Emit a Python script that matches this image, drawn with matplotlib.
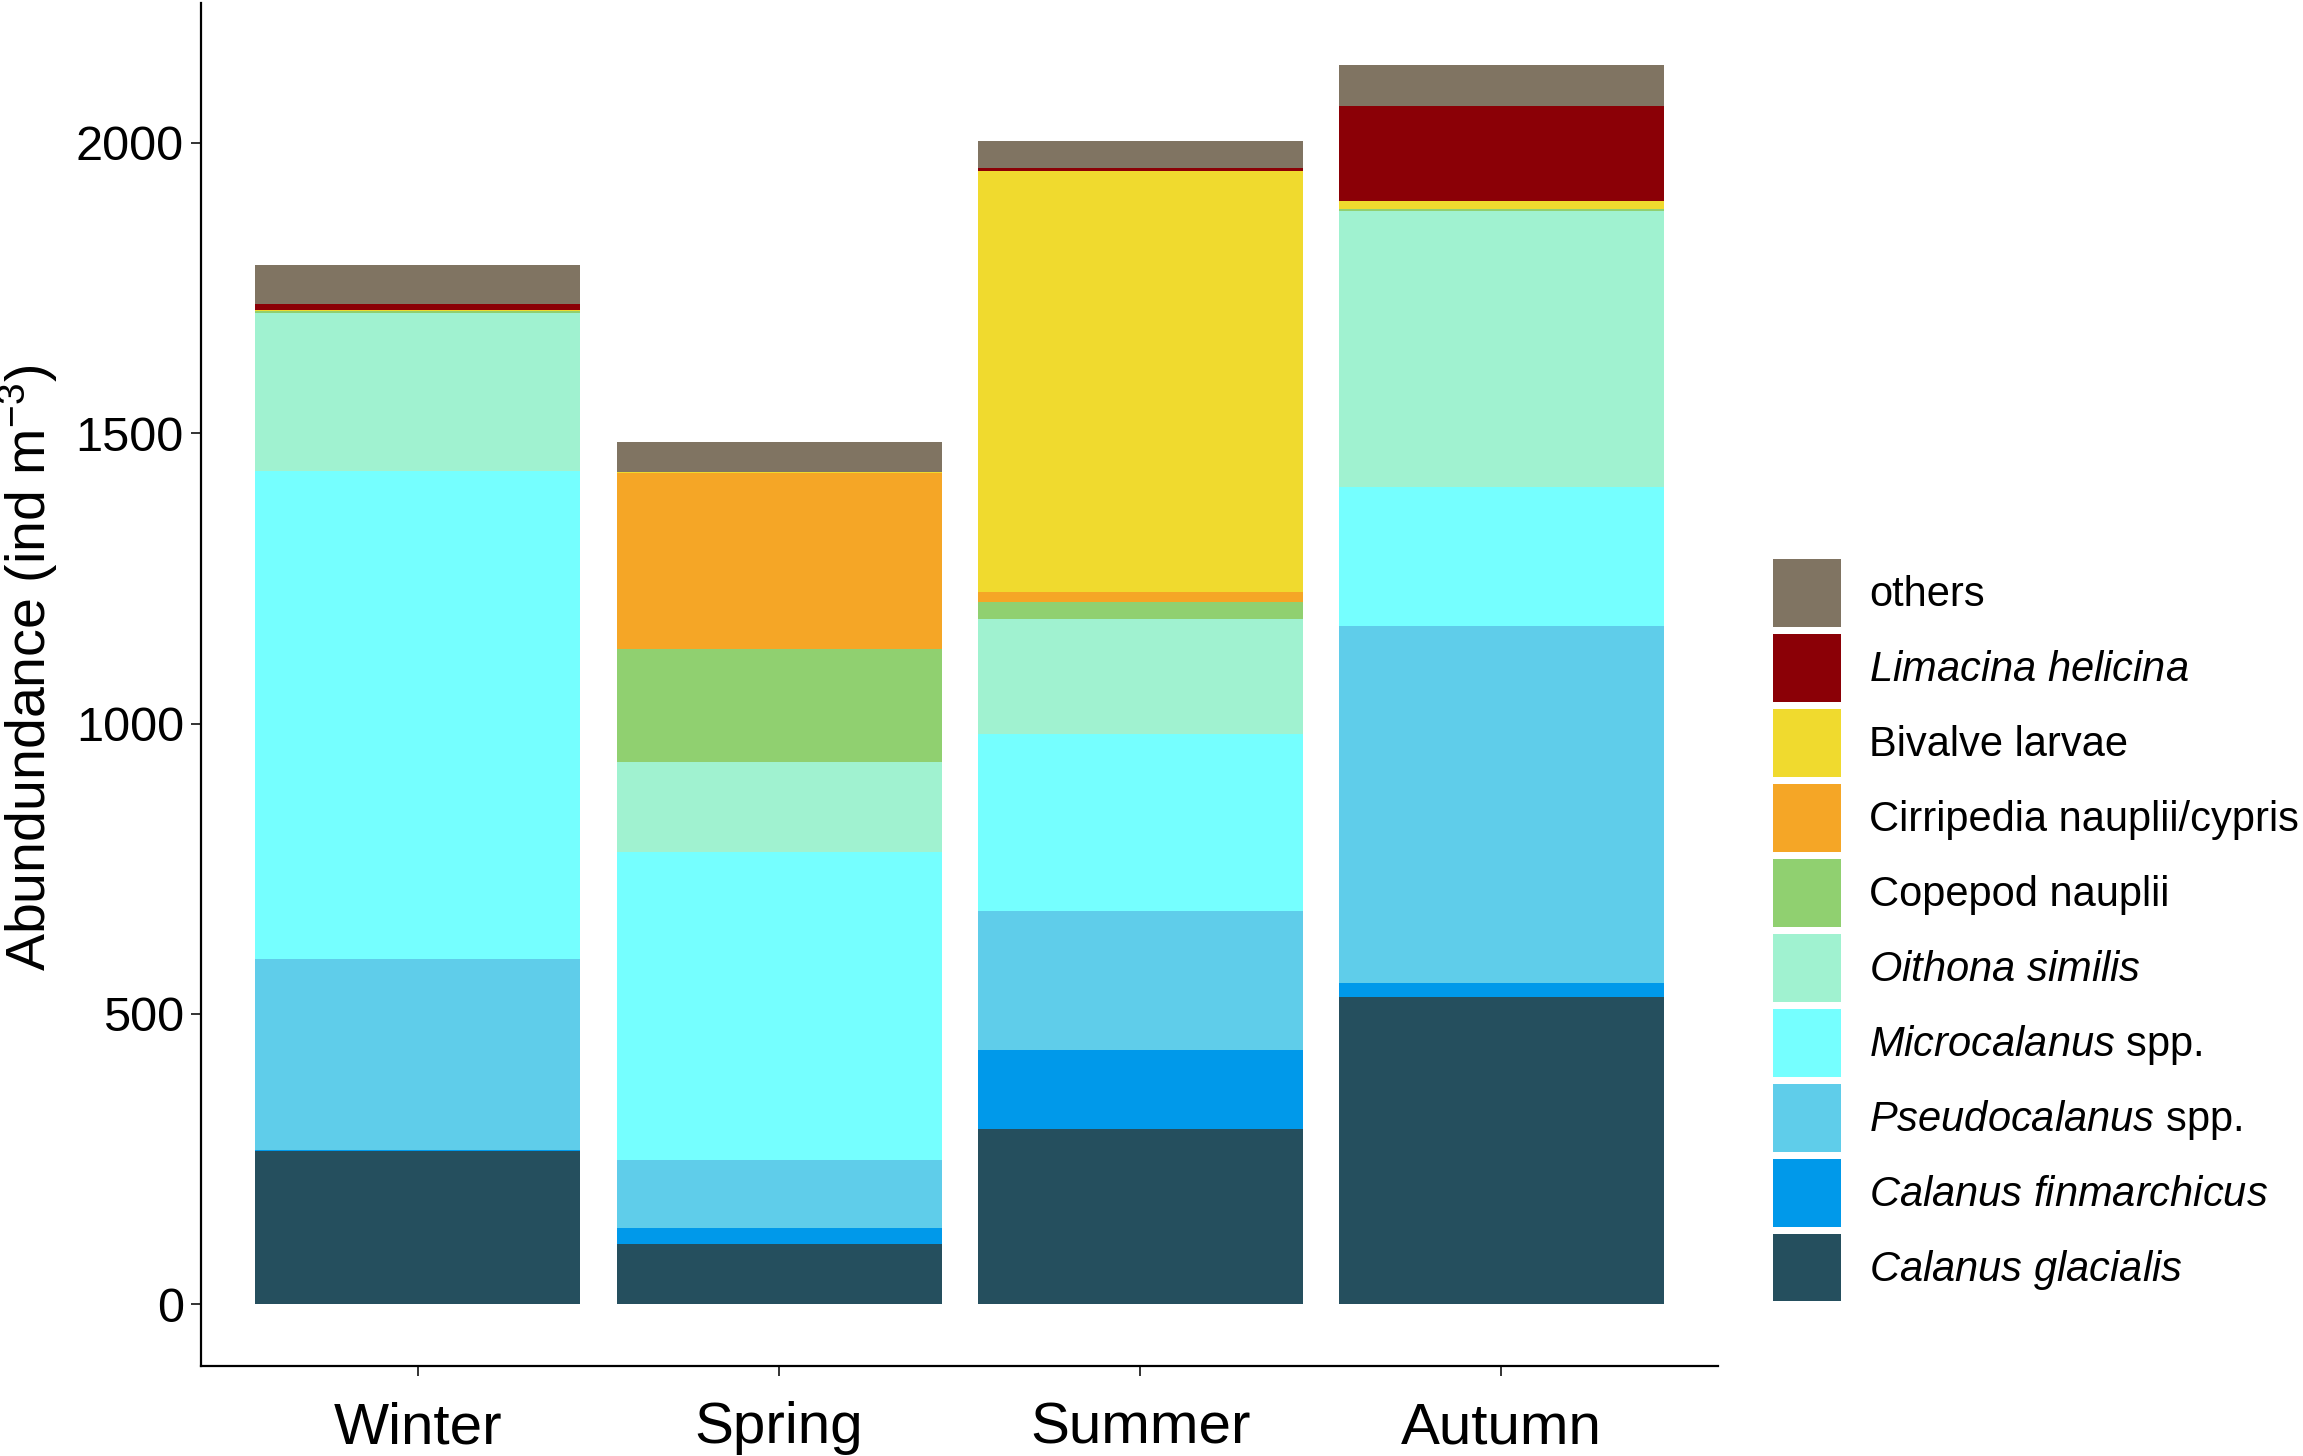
import matplotlib
matplotlib.use("Agg")
from matplotlib import pyplot as plt
from matplotlib.patches import Patch
import numpy as np

# fonts: Arial-like, italic species names via mathtext
plt.rcParams["font.family"] = ["Liberation Sans", "DejaVu Sans"]
plt.rcParams["mathtext.fontset"] = "custom"
plt.rcParams["mathtext.rm"] = "Liberation Sans"
plt.rcParams["mathtext.it"] = "Liberation Sans:italic"

# data (ind m^-3)
seasons = ["Winter", "Spring", "Summer", "Autumn"]

# bottom to top of the stack
species = [
    r"$\mathit{Calanus\ glacialis}$",
    r"$\mathit{Calanus\ finmarchicus}$",
    r"$\mathit{Pseudocalanus}$ spp.",
    r"$\mathit{Microcalanus}$ spp.",
    r"$\mathit{Oithona\ similis}$",
    "Copepod nauplii",
    "Cirripedia nauplii/cypris",
    "Bivalve larvae",
    r"$\mathit{Limacina\ helicina}$",
    "others",
]

calanus_glacialis = [264, 104, 302, 529]
calanus_finmarchicus = [2, 27, 136, 25]
pseudocalanus = [328, 117, 239, 614]
microcalanus = [840, 530, 305, 239]
oithona_similis = [273, 156, 198, 476]
copepod_nauplii = [3, 194, 30, 2]
cirripedia = [0, 303, 16, 0]
bivalve_larvae = [2, 2, 726, 14]
limacina_helicina = [11, 0, 4, 164]
others = [66, 51, 47, 70]

values = [calanus_glacialis, calanus_finmarchicus, pseudocalanus, microcalanus,
          oithona_similis, copepod_nauplii, cirripedia, bivalve_larvae,
          limacina_helicina, others]

colors = ["#254F5E", "#0099EA", "#5FCDEA", "#75FFFF", "#A0F2D0",
          "#90D070", "#F5A626", "#F0DA2E", "#8B0006", "#807462"]

# figure
fig = plt.figure(figsize=(23.03, 14.56), dpi=100)
ax = fig.add_axes([0.0874, 0.0618, 0.6586, 0.936])

x = np.arange(1, len(seasons) + 1)
bottom = np.zeros(len(seasons))
for vals, col in zip(values, colors):
    ax.bar(x, vals, width=0.9, bottom=bottom, color=col, linewidth=0)
    bottom += np.array(vals)

ax.set_xlim(0.4, 4.6)
ax.set_ylim(-106, 2240)
ax.set_xticks(x)
ax.set_xticklabels(seasons, fontsize=42)
ax.set_yticks([0, 500, 1000, 1500, 2000])
ax.tick_params(axis="y", labelsize=35, length=7.5, width=1.4, color="#333333", pad=5)
ax.tick_params(axis="x", length=7.5, width=1.4, color="#333333", pad=18)

for side in ["top", "right"]:
    ax.spines[side].set_visible(False)
for side in ["left", "bottom"]:
    ax.spines[side].set_linewidth(1.6)

ax.set_ylabel(r"Abundundance (ind m$^{\mathregular{-3}}$)", fontsize=40)
ax.yaxis.set_label_coords(-0.093, 0.512)

# legend, others on top
handles = [Patch(facecolor=c, edgecolor="none") for c in colors]
ax.legend(handles[::-1], species[::-1], loc="upper left",
          bbox_to_anchor=(0.770, 0.616), bbox_transform=fig.transFigure,
          frameon=False, fontsize=30, handlelength=1.62, handleheight=2.115,
          labelspacing=0.18, handletextpad=0.68, borderpad=0, borderaxespad=0)

plt.savefig("out.png", dpi=100)
